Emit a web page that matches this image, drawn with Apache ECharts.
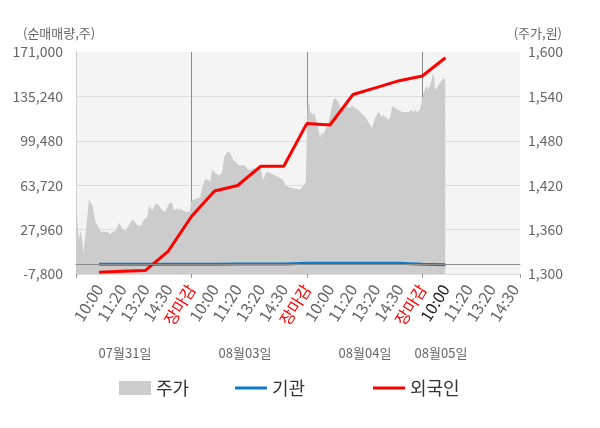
<!DOCTYPE html>
<html>
<head>
<meta charset="utf-8">
<script src="https://cdn.jsdelivr.net/npm/echarts@6/dist/echarts.min.js"></script>
<style>
  html, body { margin: 0; padding: 0; background: #fff; }
  #chart { width: 600px; height: 428px; }
</style>
</head>
<body>
<div id="chart"></div>
<script>
// x 단위: 시간 슬롯 (10:00, 11:20, 13:20, 14:30, 장마감 반복)
var timeLabels = ['10:00', '11:20', '13:20', '14:30', '장마감'];
var dateLabels = ['07월31일', '08월03일', '08월04일', '08월05일'];

// 주가 (원)
var priceX = [
  0, 0.06, 0.13, 0.2, 0.27, 0.32, 0.37, 0.45, 0.49, 0.56, 0.63, 0.71, 0.78, 0.85, 0.92,
  1.0, 1.06, 1.14, 1.21, 1.28, 1.35, 1.43, 1.5, 1.57, 1.64, 1.71, 1.79, 1.86, 1.93,
  2.0, 2.08, 2.15, 2.22, 2.29, 2.36, 2.44, 2.51, 2.58, 2.65, 2.73, 2.8, 2.87, 2.94,
  3.01, 3.09, 3.16, 3.23, 3.3, 3.38, 3.45, 3.52, 3.59, 3.66, 3.74, 3.81, 3.88, 3.95,
  4.03, 4.1, 4.17, 4.24, 4.31, 4.39, 4.46, 4.53, 4.6, 4.68, 4.74, 4.82, 4.93,
  4.97, 5.03, 5.16, 5.29, 5.38, 5.47, 5.6, 5.73, 5.81, 5.9, 6.03, 6.16, 6.25, 6.33,
  6.42, 6.55, 6.68, 6.81, 6.94, 7.03, 7.2, 7.33, 7.46, 7.59, 7.68, 7.76, 7.85, 7.98,
  8.11, 8.24, 8.41, 8.58, 8.76, 8.97, 9.06, 9.19, 9.36, 9.54, 9.71, 9.8, 9.88, 9.95,
  10.03, 10.11, 10.14, 10.29, 10.32, 10.36, 10.43, 10.5, 10.58, 10.65, 10.72, 10.79,
  10.87, 10.94, 11.01, 11.08, 11.15, 11.23, 11.3, 11.37, 11.44, 11.52, 11.58, 11.66,
  11.73, 11.8, 11.87, 11.95, 12.02, 12.09, 12.16, 12.23, 12.31, 12.38, 12.45, 12.52,
  12.6, 12.67, 12.74, 12.81, 12.88, 12.96, 13.03, 13.1, 13.17, 13.25, 13.32, 13.39,
  13.46, 13.53, 13.61, 13.68, 13.75, 13.82, 13.9, 13.97, 14.04, 14.11, 14.18, 14.26,
  14.33, 14.4, 14.47, 14.55, 14.62, 14.69, 14.76, 14.83, 14.9, 14.97,
  15.05, 15.12, 15.19, 15.26, 15.34, 15.41, 15.45, 15.51, 15.55, 15.63, 15.7, 15.77,
  15.84, 15.91, 15.99
];
var priceY = [
  1410, 1369, 1346, 1359, 1346, 1328, 1342, 1364, 1377, 1401, 1397, 1393, 1391, 1370, 1366,
  1362, 1357, 1358, 1357, 1358, 1357, 1355, 1354, 1357, 1358, 1358, 1364, 1369, 1366,
  1361, 1361, 1358, 1362, 1364, 1369, 1374, 1374, 1369, 1366, 1365, 1365, 1366, 1373,
  1372, 1377, 1392, 1389, 1386, 1391, 1395, 1396, 1393, 1389, 1386, 1385, 1384, 1384,
  1396, 1397, 1396, 1386, 1384, 1389, 1386, 1389, 1386, 1385, 1384, 1384, 1384,
  1396, 1400, 1401, 1403, 1403, 1418, 1428, 1427, 1424, 1441, 1436, 1434, 1434, 1438,
  1458, 1465, 1464, 1454, 1451, 1447, 1447, 1446, 1441, 1441, 1443, 1445, 1441, 1443,
  1427, 1438, 1436, 1434, 1431, 1427, 1420, 1418, 1416, 1415, 1414, 1418, 1420, 1424,
  1526, 1531, 1519, 1515, 1519, 1512, 1505, 1495, 1484, 1492, 1488, 1495,
  1499, 1505, 1515, 1526, 1535, 1538, 1537, 1532, 1526, 1523, 1528, 1531,
  1526, 1524, 1524, 1528, 1526, 1524, 1522, 1522, 1519, 1518, 1515, 1512,
  1511, 1505, 1501, 1497, 1499, 1511, 1515, 1519, 1518, 1512, 1515, 1512,
  1511, 1508, 1512, 1524, 1527, 1524, 1523, 1522, 1520, 1519, 1520, 1519,
  1519, 1519, 1519, 1522, 1518, 1522, 1519, 1518, 1522, 1532,
  1545, 1549, 1555, 1549, 1551, 1562, 1572, 1566, 1549, 1551, 1555, 1558,
  1559, 1565, 1562
];

// 순매매량 (주)
var flowX = [1, 2, 3, 4, 5, 6, 7, 8, 9, 10, 11, 12, 13, 14, 15, 16];
var instFlow = [100, 100, 100, 100, 100, 100, 200, 200, 300, 900, 900, 900, 900, 800, 100, -300];
var foreignFlow = [-6400, -5600, -5000, 10700, 38500, 59000, 63500, 79000, 79000,
  113500, 112200, 136800, 142300, 147900, 151700, 166400];

function zip(xs, ys) {
  return xs.map(function(x, i) { return [x, ys[i]]; });
}

var FONT = '"Noto Sans CJK KR", "Noto Sans", sans-serif';
var chart = echarts.init(document.getElementById('chart'));

function legendOf(name, left, iconHeight) {
  return {
    data: [{ name: name, icon: 'rect' }],
    left: left,
    top: 374,
    itemWidth: 32,
    itemHeight: iconHeight,
    textStyle: { fontSize: 18, color: '#333', fontFamily: FONT }
  };
}

function textEl(text, x, align) {
  return {
    type: 'text', x: x, y: 33,
    style: { text: text, align: align, verticalAlign: 'middle', fill: '#666', font: '13px ' + FONT }
  };
}

chart.setOption({
  animation: false,
  textStyle: { fontFamily: FONT },
  grid: {
    left: 76, right: 80, top: 52, bottom: 154,
    show: true, backgroundColor: '#f4f4f4', borderWidth: 0
  },
  legend: [
    legendOf('주가', 114, 14),
    legendOf('기관', 230, 3),
    legendOf('외국인', 368, 3)
  ],
  xAxis: [{
    type: 'value', position: 'bottom',
    min: 0, max: 19.23, interval: 1,
    axisLine: { show: true, lineStyle: { color: '#999' } },
    axisTick: { show: false },
    splitLine: { show: false },
    axisLabel: {
      rotate: 58, margin: 12, fontSize: 16, fontFamily: FONT,
      formatter: function(v) {
        var k = Math.round(v);
        if (Math.abs(v - k) > 1e-6 || k < 1) return '';
        return timeLabels[(k - 1) % 5];
      },
      color: function(v) {
        var k = Math.round(Number(v));
        if (k > 0 && k % 5 === 0) return '#ff0000';
        if (k === 16) return '#222';
        return '#666';
      }
    }
  }, {
    type: 'value', position: 'bottom',
    min: 0, max: 19.23, interval: 5,
    axisLine: { show: false },
    axisLabel: { show: false },
    axisTick: { show: true, length: 4, lineStyle: { color: '#999' } },
    splitLine: {
      show: true, showMinLine: false, showMaxLine: false,
      lineStyle: { color: '#8c8c8c', width: 1 }
    }
  }],
  yAxis: [{
    type: 'value', position: 'left',
    min: -7800, max: 171000, interval: 35760,
    axisLine: { show: true, lineStyle: { color: '#999' } },
    axisTick: { show: false },
    splitLine: { show: true, showMaxLine: false, lineStyle: { color: '#dcdcdc' } },
    axisLabel: {
      color: '#666', fontSize: 14, margin: 13,
      formatter: function(v) { return Number(v).toLocaleString('en-US'); }
    }
  }, {
    type: 'value', position: 'right',
    min: 1300, max: 1600, interval: 60,
    axisLine: { show: true, lineStyle: { color: '#cfcfcf' } },
    axisTick: { show: false },
    splitLine: { show: false },
    axisLabel: {
      color: '#666', fontSize: 14, margin: 8,
      formatter: function(v) { return Number(v).toLocaleString('en-US'); }
    }
  }],
  graphic: [
    textEl('(순매매량,주)', 23, 'left'),
    textEl('(주가,원)', 562, 'right')
  ].concat(dateLabels.map(function(d, i) {
    return {
      type: 'text', x: [125, 245, 365, 441][i], y: 353,
      style: { text: d, align: 'center', verticalAlign: 'middle', fill: '#666', font: '13px ' + FONT }
    };
  })),
  series: [{
    name: '주가', type: 'line', xAxisIndex: 0, yAxisIndex: 1,
    data: zip(priceX, priceY),
    symbol: 'none',
    itemStyle: { color: '#cccccc' },
    lineStyle: { width: 0, color: '#cccccc' },
    areaStyle: { color: '#cccccc', opacity: 1, origin: 'start' }
  }, {
    name: '기관', type: 'line', xAxisIndex: 0, yAxisIndex: 0,
    data: zip(flowX, instFlow),
    symbol: 'none',
    itemStyle: { color: '#0a7cc9' },
    lineStyle: { width: 3, color: '#0a7cc9' },
    markLine: {
      silent: true, symbol: 'none', label: { show: false },
      lineStyle: { color: '#8c8c8c', type: 'solid', width: 1 },
      data: [{ yAxis: 0 }]
    },
    z: 3
  }, {
    name: '외국인', type: 'line', xAxisIndex: 0, yAxisIndex: 0,
    data: zip(flowX, foreignFlow),
    symbol: 'none',
    itemStyle: { color: '#ff0000' },
    lineStyle: { width: 3, color: '#ff0000' },
    z: 4
  }]
});
</script>
</body>
</html>
